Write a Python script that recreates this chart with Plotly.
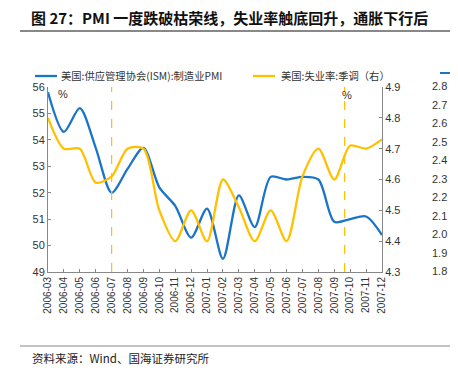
import plotly.graph_objects as go

categories = ["2006-03","2006-04","2006-05","2006-06","2006-07","2006-08","2006-09","2006-10",
              "2006-11","2006-12","2007-01","2007-02","2007-03","2007-04","2007-05","2007-06",
              "2007-07","2007-08","2007-09","2007-10","2007-11","2007-12"]
pmi = [55.8, 54.3, 55.2, 53.7, 52.0, 52.9, 53.7, 52.2, 51.5, 50.3, 51.4, 49.5,
       51.9, 50.7, 52.6, 52.5, 52.6, 52.5, 50.9, 51.0, 51.1, 50.4]
unemp = [4.80, 4.70, 4.70, 4.59, 4.61, 4.70, 4.70, 4.50, 4.40, 4.50, 4.40, 4.60,
         4.51, 4.40, 4.50, 4.40, 4.61, 4.70, 4.60, 4.71, 4.70, 4.73]
left_ticks = [49, 50, 51, 52, 53, 54, 55, 56]
right_ticks = [4.3, 4.4, 4.5, 4.6, 4.7, 4.8, 4.9]
side_ticks = ["2.8", "2.7", "2.6", "2.5", "2.4", "2.3", "2.2", "2.1", "2.0", "1.9", "1.8"]
vlines = [4, 18.65]

ORANGE = "#ffc000"
BLUE = "#1a75c8"
FONT = "Liberation Sans, Arial, sans-serif"
CJK = "Noto Sans CJK SC"

x = list(range(len(categories)))
fig = go.Figure()
fig.add_trace(go.Scatter(x=x, y=pmi, mode="lines", name="美国:供应管理协会(ISM):制造业PMI",
                         line=dict(color=BLUE, width=2.3, shape="spline", smoothing=0.8)))
fig.add_trace(go.Scatter(x=x, y=unemp, mode="lines", name="美国:失业率:季调（右）", yaxis="y2",
                         line=dict(color=ORANGE, width=2.3, shape="spline", smoothing=0.8)))

for v in vlines:
    fig.add_shape(type="line", x0=v, x1=v, y0=0, y1=1, yref="paper",
                  line=dict(color=ORANGE, width=1.2, dash="dash"))

axis_common = dict(showgrid=False, zeroline=False, showline=True, linecolor="#888",
                   linewidth=1, ticks="inside", ticklen=3, tickcolor="#888",
                   tickfont=dict(family=FONT, size=11, color="#333"))
# the page has an 8px body margin on every side, so the figure is sized to fit inside it
fig.update_layout(
    width=442, height=359,
    margin=dict(l=40, r=68, t=79, b=95),
    paper_bgcolor="white", plot_bgcolor="white",
    showlegend=False,
    xaxis=dict(axis_common, range=[0, len(categories) - 1], tickmode="array",
               tickvals=x, ticktext=categories, tickangle=-90,
               tickfont=dict(family=FONT, size=10, color="#333")),
    yaxis=dict(axis_common, range=[49, 56], tickvals=left_ticks),
    yaxis2=dict(axis_common, range=[4.3, 4.9], tickvals=right_ticks,
                tickformat=".1f", overlaying="y", side="right"),
)

# page-pixel to paper coords (plot area spans page x 48..382, y 87..272)
def px(xp):
    return (xp - 48) / (382 - 48)
def py(yp):
    return (272 - yp) / (272 - 87)

def note(text, xp, yp, size, family=FONT, color="#333", anchor="left"):
    fig.add_annotation(text=text, x=px(xp), y=py(yp), xref="paper", yref="paper",
                       showarrow=False, xanchor=anchor, yanchor="middle",
                       font=dict(family=family, size=size, color=color))

def hline(x0, x1, yp, color, width, dash=None):
    fig.add_shape(type="line", xref="paper", yref="paper", x0=px(x0), x1=px(x1),
                  y0=py(yp), y1=py(yp), line=dict(color=color, width=width, dash=dash))

# legend
hline(35, 57, 76, BLUE, 2.3)
note("美国:供应管理协会(ISM):制造业PMI", 59, 76, 10.3, CJK)
hline(253, 275, 76, ORANGE, 2.3)
note("美国:失业率:季调（右）", 279, 76, 10.3, CJK)
# % labels
note("%", 63, 94, 11, anchor="center")
note("%", 347, 95, 11, anchor="center")

# title, rules, source
note("<b>图 27：PMI 一度跌破枯荣线，失业率触底回升，通胀下行后</b>", 29, 17, 15, CJK, "#111")
hline(20, 450, 31, "#888", 2)
hline(20, 450, 346, "#888", 1.2)
note("资料来源：Wind、国海证券研究所", 30, 358, 11.5, CJK, "#222")

# neighbouring chart fragment at the right edge
for i, t in enumerate(side_ticks):
    yp = 86 + i * (271 - 86) / (len(side_ticks) - 1)
    note(t, 449, yp, 11, anchor="right")
hline(440, 450, 73, BLUE, 2)

fig.write_html("out.html")
